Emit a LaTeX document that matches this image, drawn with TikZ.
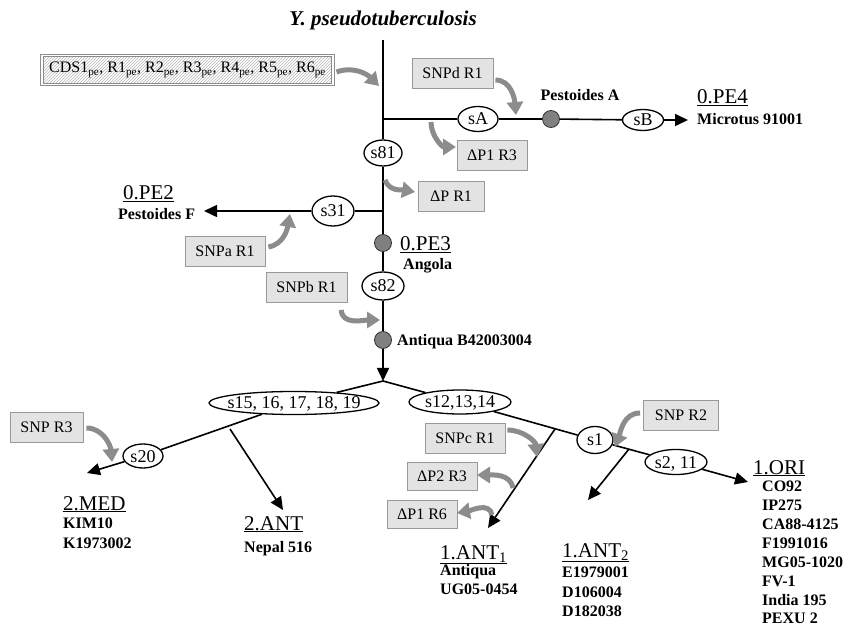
\documentclass[tikz,border=0pt]{standalone}
\usepackage{fontspec}
\setmainfont{Liberation Serif}
\usetikzlibrary{arrows.meta,shapes.geometric,patterns}
\begin{document}
\begin{tikzpicture}[x=1pt,y=1pt,
 ln/.style={line width=1.6pt, black, line join=round},
 arr/.style={-{Triangle[length=13pt,width=12pt]}},
 garrow/.style={line width=5pt, black!45, -{Triangle[length=13pt,width=16pt]}},
 gbox/.style={draw=black!40, fill=black!11, line width=0.8pt, minimum height=30pt, inner sep=0pt, font=\fontsize{16}{19}\selectfont},
 ell/.style={ellipse, draw, fill=white, line width=1.3pt, inner sep=0pt, text height=12pt, text depth=0pt, font=\fontsize{18}{21}\selectfont},
 gdot/.style={circle, draw=black!80, fill=black!50, line width=0.8pt, minimum size=17pt, inner sep=0pt},
 clade/.style={font=\fontsize{21}{24}\selectfont, anchor=west, inner sep=0pt, text height=14pt, text depth=0pt},
 strain/.style={font=\fontsize{16}{19}\selectfont\bfseries, anchor=west, inner sep=0pt, text height=11pt, text depth=0pt}]
\useasboundingbox (0,0) rectangle (844,-628);

% title
\node[font=\fontsize{21}{24}\selectfont\bfseries\itshape] (title) at (383,-20) {Y. pseudotuberculosis};

% main vertical nodes
\coordinate (top) at (383,-40);
\coordinate (hA) at (383,-119);
\node[ell, minimum width=38, minimum height=26] (s81) at (383,-153) {s81};
\coordinate (hB) at (383,-211);
\node[gdot] (pe3) at (383,-243) {};
\node[ell, minimum width=42, minimum height=28] (s82) at (383,-286) {s82};
\node[gdot] (antB) at (383,-340) {};
\coordinate (J) at (383,-381);

% top right branch
\node[ell, minimum width=40, minimum height=25] (sA) at (478,-119) {sA};
\node[gdot] (pA) at (551,-119) {};
\node[ell, minimum width=41, minimum height=21] (sB) at (643,-120) {sB};
\coordinate (pe4tip) at (688,-120);
\node[clade] (pe4) at (697,-97) {\underline{0.PE4}};
\node[strain] (mic) at (697,-119) {Microtus 91001};
\node[strain, anchor=center] (pestA) at (580,-95) {Pestoides A};

% left branch s31
\node[ell, minimum width=42, minimum height=30] (s31) at (333,-211) {s31};
\coordinate (pe2tip) at (204,-211);
\node[clade] (pe2) at (123,-193) {\underline{0.PE2}};
\node[strain] (pestF) at (118,-214) {Pestoides F};
\node[clade] (pe3l) at (400,-244) {\underline{0.PE3}};
\node[strain] (ang) at (403,-264) {Angola};
\node[strain] (antBl) at (397,-340) {Antiqua B42003004};

% boxes
\node[draw=black!45, double=white, double distance=1.5pt, line width=1.1pt,
      preaction={fill=white}, pattern=north east lines, pattern color=black!28,
      minimum width=291, minimum height=29, inner sep=0pt, font=\fontsize{16}{19}\selectfont] (cds) at (187.5,-70)
 {CDS1\textsubscript{pe}, R1\textsubscript{pe}, R2\textsubscript{pe}, R3\textsubscript{pe}, R4\textsubscript{pe}, R5\textsubscript{pe}, R6\textsubscript{pe}};
\node[gbox, minimum width=81] (snpd) at (452.5,-73) {SNPd R1};
\node[gbox, minimum width=70] (dp1r3) at (492,-155) {ΔP1 R3};
\node[gbox, minimum width=66] (dpr1) at (451,-196) {ΔP R1};
\node[gbox, minimum width=80] (snpa) at (225,-251) {SNPa R1};
\node[gbox, minimum width=81] (snpb) at (306.5,-287.5) {SNPb R1};
\node[gbox, minimum width=73] (snpr3) at (46.5,-427) {SNP R3};
\node[gbox, minimum width=80] (snpc) at (465,-438) {SNPc R1};
\node[gbox, minimum width=70, minimum height=28] (dp2r3) at (442,-476) {ΔP2 R3};
\node[gbox, minimum width=70, minimum height=28] (dp1r6) at (422,-514) {ΔP1 R6};
\node[gbox, minimum width=75] (snpr2) at (681,-415) {SNP R2};

% lower tree
\node[ell, minimum width=170, minimum height=23, inner xsep=-11pt, inner ysep=-1pt] (s15) at (294,-403) {s15, 16, 17, 18, 19};
\node[ell, minimum width=40, minimum height=24] (s20) at (143,-456) {s20};
\coordinate (medtip) at (87,-473);
\coordinate (b0) at (230,-429);
\coordinate (anttip) at (283,-510);
\node[ell, minimum width=102, minimum height=24] (s12) at (460,-402) {s12,13,14};
\node[ell, minimum width=36, minimum height=27] (s1) at (595,-440) {s1};
\node[ell, minimum width=62, minimum height=25] (s211) at (676,-462) {s2, 11};
\coordinate (oritip) at (748,-482);
\coordinate (b1) at (555,-429);
\coordinate (b2) at (629,-449);
\coordinate (ant1tip) at (488,-528);
\coordinate (ant2tip) at (588,-500);

% lower labels
\node[clade] (med) at (63,-503) {\underline{2.MED}};
\node[strain] (kim) at (63,-523) {KIM10};
\node[strain] (k19) at (63,-543) {K1973002};
\node[clade] (ant2l) at (244,-523) {\underline{2.ANT}};
\node[strain] (nepal) at (244,-547) {Nepal 516};
\node[clade] (ant1L) at (440,-552) {\underline{1.ANT\textsubscript{1}}};
\node[strain] (antiq) at (440,-570) {Antiqua};
\node[strain] (ug) at (440,-589) {UG05-0454};
\node[clade] (ant2L) at (562,-550) {\underline{1.ANT\textsubscript{2}}};
\node[strain] (e19) at (562,-572) {E1979001};
\node[strain] (d10) at (562,-592) {D106004};
\node[strain] (d18) at (562,-611) {D182038};
\node[clade] (ori) at (753,-467) {\underline{1.ORI}};
\node[strain] (co92) at (762,-486) {CO92};
\node[strain] (ip) at (762,-505) {IP275};
\node[strain] (ca) at (762,-524) {CA88-4125};
\node[strain] (f19) at (762,-543) {F1991016};
\node[strain] (mg) at (762,-562) {MG05-1020};
\node[strain] (fv) at (762,-581) {FV-1};
\node[strain] (ind) at (762,-600) {India 195};
\node[strain] (pexu) at (762,-618) {PEXU 2};

% tree lines
\draw[ln] (top) -- (hA) -- (s81);
\draw[ln] (s81) -- (hB) -- (pe3);
\draw[ln] (pe3) -- (s82);
\draw[ln] (s82) -- (antB);
\draw[ln, arr] (antB) -- (J);
\draw[ln] (hA) -- (sA);
\draw[ln] (sA) -- (pA);
\draw[ln] (pA) -- (sB);
\draw[ln, arr] (sB) -- (pe4tip);
\draw[ln] (hB) -- (s31);
\draw[ln, arr] (s31) -- (pe2tip);
\draw[ln] (J) -- (s15);
\draw[ln] (s15) -- (s20);
\draw[ln, arr] (s20) -- (medtip);
\draw[ln, arr] (b0) -- (anttip);
\draw[ln] (J) -- (s12);
\draw[ln] (s12) -- (s1);
\draw[ln] (s1) -- (s211);
\draw[ln, arr] (s211) -- (oritip);
\draw[ln, arr] (b1) -- (ant1tip);
\draw[ln, arr] (b2) -- (ant2tip);

% gray arrows
\coordinate (g1) at (379,-86);
\coordinate (g2) at (516,-115);
\coordinate (g3) at (456,-147);
\coordinate (g4) at (415,-192);
\coordinate (g5) at (290,-214);
\coordinate (g6) at (380,-320);
\coordinate (g7) at (112,-462);
\coordinate (g8) at (537,-457);
\coordinate (g9) at (477,-475);
\coordinate (g10) at (457,-513);
\coordinate (g11) at (615,-447);
\coordinate (g3s) at (431,-122);
\coordinate (g4s) at (385,-180);
\coordinate (g9s) at (513,-488);
\coordinate (g10s) at (492,-515);
\draw[garrow] ([xshift=3pt,yshift=-2pt]cds.east) to[out=20,in=135] (g1);
\draw[garrow] ([xshift=2pt,yshift=-7pt]snpd.east) to[out=0,in=95] (g2);
\draw[garrow] (g3s) to[out=-90,in=180] (g3);
\draw[garrow] (g4s) to[out=-70,in=170] (g4);
\draw[garrow] ([xshift=3pt,yshift=4pt]snpa.east) to[out=10,in=-100] (g5);
\draw[garrow] ([xshift=-6pt,yshift=-7pt]snpb.south east) to[out=-90,in=180] (g6);
\draw[garrow] ([xshift=3pt,yshift=-1pt]snpr3.east) to[out=0,in=95] (g7);
\draw[garrow] ([xshift=2pt,yshift=8pt]snpc.east) to[out=0,in=95] (g8);
\draw[garrow] (g9s) to[out=100,in=0] (g9);
\draw[garrow] (g10s) to[out=100,in=10] (g10);
\draw[garrow] ([xshift=-3pt,yshift=2pt]snpr2.west) to[out=180,in=70] (g11);
\end{tikzpicture}
\end{document}
